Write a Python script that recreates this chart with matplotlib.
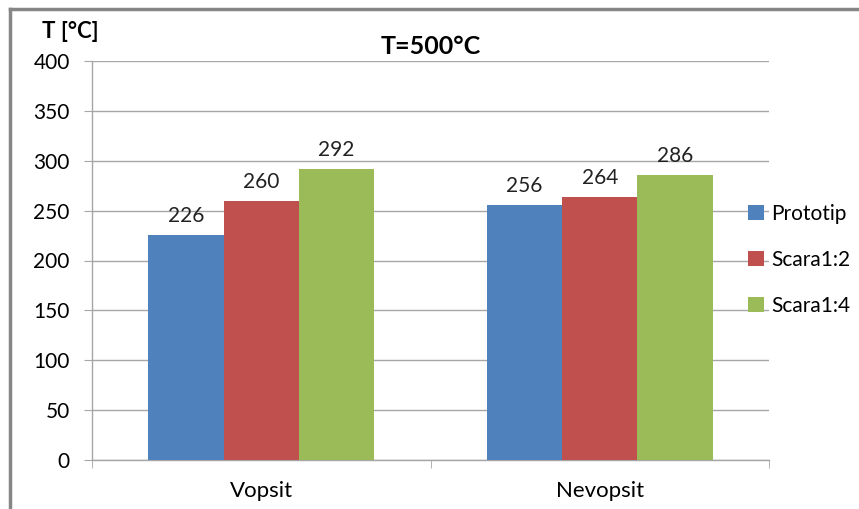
import matplotlib
matplotlib.use('Agg')
import matplotlib.pyplot as plt
import numpy as np
from matplotlib.lines import Line2D

# data
categories = ['Vopsit', 'Nevopsit']
series_names = ['Prototip', 'Scara1:2', 'Scara1:4']
prototip = [226, 256]
scara12 = [260, 264]
scara14 = [292, 286]
yticks = [0, 50, 100, 150, 200, 250, 300, 350, 400]

colors = ['#4F81BD', '#C0504D', '#9BBB59']
grid_col = '#A6A6A6'

plt.rcParams['font.family'] = ['Lato', 'DejaVu Sans']

fig = plt.figure(figsize=(8.59, 5.09), dpi=100)
ax = fig.add_axes([92 / 859, 1 - 460 / 509, (769 - 92) / 859, (460 - 61) / 509])

x = np.arange(len(categories))
width = (2 / 3) / 3
for i, vals in enumerate([prototip, scara12, scara14]):
    bars = ax.bar(x + (i - 1) * width, vals, width, color=colors[i],
                  label=series_names[i], zorder=3)
    for b in bars:
        ax.text(b.get_x() + b.get_width() / 2, b.get_height() + 9,
                f'{b.get_height():.0f}', ha='center', va='bottom',
                fontsize=15, color='#222222')

ax.set_xlim(-0.5, 1.5)
ax.set_ylim(0, 400)
ax.set_yticks(yticks)
ax.set_xticks(x)
ax.set_xticklabels(categories)
ax.set_xticks([-0.5, 0.5, 1.5], minor=True)
ax.tick_params(axis='x', which='major', length=0, pad=15, labelsize=16)
ax.tick_params(axis='x', which='minor', length=6, color=grid_col, direction='out')
ax.tick_params(axis='y', length=6, color=grid_col, labelsize=15, pad=10)
ax.grid(axis='y', color=grid_col, linewidth=1, zorder=0)
for s in ['top', 'right']:
    ax.spines[s].set_visible(False)
for s in ['left', 'bottom']:
    ax.spines[s].set_color(grid_col)
    ax.spines[s].set_linewidth(1)

ax.set_title('T=500°C', fontsize=18, fontweight='bold', pad=5)
fig.text(42 / 859, 1 - 31 / 509, 'T [°C]', fontsize=16, fontweight='bold',
         ha='left', va='center')

leg = fig.legend(loc='center left', bbox_to_anchor=(748 / 859, 1 - 260 / 509),
                 frameon=False, fontsize=15, handlelength=0.75, handleheight=0.75,
                 handletextpad=0.35, labelspacing=1.25, borderpad=0,
                 borderaxespad=0)

# outer frame (left and top visible)
fig.add_artist(Line2D([10 / 859, 10 / 859], [0, 1 - 9 / 509],
                      transform=fig.transFigure, color='#868686', linewidth=2.5))
fig.add_artist(Line2D([10 / 859, 1], [1 - 9 / 509, 1 - 9 / 509],
                      transform=fig.transFigure, color='#868686', linewidth=2.5))

fig.savefig('out.png', dpi=100)
